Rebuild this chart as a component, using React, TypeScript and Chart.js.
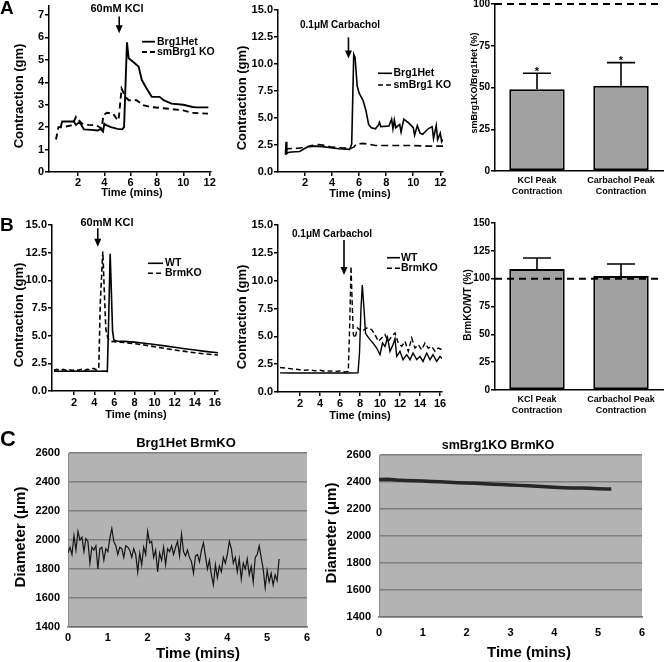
import React, { useEffect, useRef } from "react";
import { Chart, registerables } from "chart.js";

Chart.register(...registerables);

const FONT = "'Liberation Sans', Arial, Helvetica, sans-serif";
Chart.defaults.font.family = FONT;
Chart.defaults.color = "#000";

/* ---------------- Panel A1: 60mM KCl, Brg1Het vs smBrg1 KO ---------------- */
const a1HetTime = [0.67, 0.8, 1.2, 1.67, 1.85, 2.05, 2.2, 2.45, 3.0, 3.5, 3.7, 3.9, 4.0, 4.1, 4.5, 5.0, 5.35, 5.5, 5.72, 5.85, 6.2, 6.6, 6.85, 7.2, 7.6, 8.2, 8.5, 9.1, 10.0, 10.7, 11.0, 11.9];
const a1HetVal = [1.95, 2.25, 2.25, 2.25, 2.1, 2.2, 2.15, 1.9, 1.88, 1.85, 1.92, 1.8, 2.15, 2.1, 2.0, 1.92, 1.9, 2.0, 5.78, 5.07, 4.9, 4.7, 4.1, 3.73, 3.35, 3.35, 3.2, 3.05, 3.0, 2.9, 2.88, 2.88];
const a1KoTime = [0.33, 0.52, 1.0, 1.55, 1.85, 2.3, 2.8, 3.4, 3.8, 3.93, 4.2, 4.67, 4.93, 5.08, 5.31, 5.6, 5.85, 6.45, 6.95, 7.5, 8.7, 10.0, 10.6, 11.87];
const a1KoVal = [1.45, 2.0, 2.02, 2.08, 2.46, 2.16, 2.1, 2.08, 1.94, 2.53, 2.64, 2.6, 2.38, 2.3, 3.72, 3.35, 3.2, 3.2, 2.98, 2.9, 2.83, 2.75, 2.64, 2.6];
const a1XTicks = [2, 4, 6, 8, 10, 12];
const a1YTicks = [0, 1, 2, 3, 4, 5, 6, 7];

/* ---------------- Panel A2: 0.1uM Carbachol ---------------- */
const a2HetTime = [0.55, 0.6, 0.65, 0.75, 1.0, 1.6, 2.0, 2.3, 2.8, 3.3, 3.9, 4.5, 5.3, 5.45, 5.6, 5.7, 5.85, 6.0, 6.3, 6.5, 6.7, 6.9, 7.2, 7.4, 7.5, 7.6, 8.2, 8.4, 8.5, 8.6, 8.7, 9.0, 9.1, 9.3, 9.7, 10.0, 10.1, 10.3, 10.5, 10.7, 11.1, 11.4, 11.5, 11.7, 11.8, 12.0, 12.1, 12.2];
const a2HetVal = [1.6, 2.8, 1.7, 1.8, 1.85, 1.9, 2.2, 2.35, 2.4, 2.35, 2.25, 2.15, 2.1, 2.6, 10.9, 10.6, 8.0, 7.3, 6.6, 5.7, 4.4, 4.1, 4.0, 4.3, 4.6, 4.2, 4.25, 4.9, 4.0, 4.8, 4.1, 4.4, 3.7, 4.9, 4.5, 4.1, 3.4, 4.3, 3.6, 3.5, 4.0, 4.2, 3.1, 4.3, 3.0, 3.6, 2.8, 3.0];
const a2KoTime = [0.55, 0.7, 1.5, 2.0, 2.5, 3.0, 3.5, 4.0, 4.5, 5.4, 5.6, 5.8, 6.3, 6.8, 7.2, 8.0, 9.0, 10.0, 11.0, 12.2];
const a2KoVal = [2.0, 2.15, 2.2, 2.3, 2.45, 2.55, 2.45, 2.3, 2.25, 2.2, 2.3, 2.6, 2.65, 2.55, 2.45, 2.45, 2.45, 2.45, 2.4, 2.4];
const a2XTicks = [2, 4, 6, 8, 10, 12];
const contractionYTicks = [0, 2.5, 5, 7.5, 10, 12.5, 15];

/* ---------------- Bar panels ---------------- */
const barCategories = [["KCl Peak", "Contraction"], ["Carbachol Peak", "Contraction"]];
const a3Mean = [48.9, 51.1];
const a3Sem = [9.6, 13.8];
const a3Stars = ["*", "*"];
const a3YTicks = [0, 25, 50, 75, 100];
const b3Mean = [108.7, 102.4];
const b3Sem = [9.9, 10.8];
const b3YTicks = [0, 25, 50, 75, 100, 125, 150];
const referenceLevel = 100;

/* ---------------- Panel B1: 60mM KCl, WT vs BrmKO ---------------- */
const b1WtTime = [0, 0.5, 1, 1.5, 2, 2.5, 3, 3.5, 4, 4.5, 5, 5.3, 5.42, 5.58, 5.7, 5.82, 5.95, 6.3, 7, 8, 9, 10, 11, 12, 13, 14, 15, 16.3];
const b1WtVal = [1.8, 1.78, 1.8, 1.79, 1.8, 1.78, 1.8, 1.79, 1.8, 1.78, 1.8, 1.78, 6.0, 12.4, 9.0, 5.4, 4.6, 4.5, 4.48, 4.42, 4.32, 4.2, 4.08, 3.95, 3.82, 3.7, 3.58, 3.45];
const b1KoTime = [0, 0.3, 0.6, 0.9, 1.2, 1.5, 1.8, 2.1, 2.4, 2.7, 3.0, 3.3, 3.6, 3.9, 4.2, 4.45, 4.6, 4.85, 5.0, 5.15, 5.35, 5.6, 6, 7, 8, 9, 10, 11, 12, 13, 14, 15, 16.3];
const b1KoVal = [1.9, 1.95, 1.85, 1.95, 1.88, 1.96, 1.86, 1.94, 1.88, 1.95, 1.87, 1.95, 1.9, 2.05, 1.92, 2.05, 8.0, 12.6, 9.0, 5.6, 4.8, 4.5, 4.45, 4.38, 4.28, 4.15, 4.0, 3.85, 3.7, 3.58, 3.45, 3.35, 3.25];
const bXTicks = [2, 4, 6, 8, 10, 12, 14, 16];

/* ---------------- Panel B2: Carbachol, WT vs BrmKO ---------------- */
const b2WtTime = [0, 1, 2, 3, 4, 5, 6, 7, 7.8, 7.95, 8.1, 8.23, 8.4, 8.55, 8.67, 9.0, 9.3, 9.67, 10.0, 10.25, 10.5, 10.75, 11.0, 11.3, 11.5, 11.67, 12.0, 12.3, 12.67, 13.0, 13.3, 13.67, 14.0, 14.3, 14.67, 15.0, 15.3, 15.67, 16.0, 16.2];
const b2WtVal = [1.72, 1.7, 1.72, 1.7, 1.72, 1.7, 1.72, 1.7, 1.72, 3.5, 7.5, 9.6, 7.5, 5.3, 5.1, 4.7, 4.4, 3.95, 3.35, 4.4, 4.1, 4.9, 3.65, 4.25, 4.8, 3.2, 3.65, 2.9, 3.35, 2.9, 3.5, 2.9, 3.2, 2.75, 3.5, 2.9, 3.35, 2.75, 3.2, 3.0];
const b2KoTime = [0, 0.5, 1, 1.5, 2, 2.5, 3, 3.5, 4, 4.5, 5, 5.5, 6, 6.5, 6.83, 6.97, 7.1, 7.22, 7.33, 7.5, 7.75, 8.17, 8.67, 9.17, 9.5, 9.83, 10.17, 10.5, 10.83, 11.17, 11.5, 11.83, 12.17, 12.5, 12.83, 13.17, 13.5, 13.83, 14.17, 14.5, 14.83, 15.17, 15.5, 15.83, 16.2];
const b2KoVal = [2.2, 2.15, 2.1, 2.05, 2.0, 1.95, 2.0, 1.9, 1.95, 1.85, 1.9, 1.85, 1.88, 1.8, 1.85, 6.0, 11.3, 8.0, 5.15, 4.85, 5.75, 5.45, 5.75, 5.6, 5.15, 4.55, 4.85, 5.15, 4.55, 5.0, 5.3, 4.4, 4.1, 4.55, 3.65, 4.85, 3.95, 4.25, 3.8, 4.4, 3.95, 4.1, 3.65, 3.95, 3.8];

/* ---------------- Panel C: vessel diameter ---------------- */
const c1Time = [0.0, 0.05, 0.1, 0.15, 0.2, 0.25, 0.3, 0.35, 0.4, 0.45, 0.5, 0.55, 0.6, 0.65, 0.7, 0.75, 0.8, 0.85, 0.9, 0.95, 1.0, 1.05, 1.1, 1.15, 1.2, 1.25, 1.3, 1.35, 1.4, 1.45, 1.5, 1.55, 1.6, 1.65, 1.7, 1.75, 1.8, 1.85, 1.9, 1.95, 2.0, 2.05, 2.1, 2.15, 2.2, 2.25, 2.3, 2.35, 2.4, 2.45, 2.5, 2.55, 2.6, 2.65, 2.7, 2.75, 2.8, 2.85, 2.9, 2.95, 3.0, 3.05, 3.1, 3.15, 3.2, 3.25, 3.3, 3.35, 3.4, 3.45, 3.5, 3.55, 3.6, 3.65, 3.7, 3.75, 3.8, 3.85, 3.9, 3.95, 4.0, 4.05, 4.1, 4.15, 4.2, 4.25, 4.3, 4.35, 4.4, 4.45, 4.5, 4.55, 4.6, 4.65, 4.7, 4.75, 4.8, 4.85, 4.9, 4.95, 5.0, 5.05, 5.1, 5.15, 5.2, 5.25, 5.3];
const c1Diameter = [1910, 1950, 1900, 2030, 1930, 2060, 2000, 2020, 1920, 2010, 1990, 1840, 1950, 1930, 1960, 1800, 1940, 1950, 1860, 1940, 1920, 2010, 2080, 1990, 1960, 1900, 1950, 1940, 1880, 1960, 1950, 1930, 1880, 1940, 1900, 1780, 1910, 1830, 1950, 1900, 2060, 1980, 1990, 1880, 1930, 1780, 1910, 1860, 1950, 1830, 1940, 1920, 1960, 1900, 1950, 1990, 1890, 2040, 1920, 1890, 1930, 1880, 1850, 1770, 1890, 1900, 1850, 1930, 1980, 1890, 1800, 1860, 1760, 1690, 1830, 1740, 1820, 1780, 1880, 1840, 1900, 1990, 1940, 1840, 1880, 1780, 1870, 1730, 1840, 1800, 1870, 1760, 1820, 1710, 1880, 1900, 1960, 1880, 1800, 1670, 1790, 1710, 1770, 1690, 1760, 1720, 1870];
const c2Time = [0, 0.2, 0.4, 0.6, 0.8, 1.0, 1.2, 1.4, 1.6, 1.8, 2.0, 2.2, 2.4, 2.6, 2.8, 3.0, 3.2, 3.4, 3.6, 3.8, 4.0, 4.2, 4.4, 4.6, 4.8, 5.0, 5.2, 5.3];
const c2Diameter = [2418, 2420, 2414, 2412, 2410, 2408, 2404, 2401, 2398, 2395, 2392, 2390, 2387, 2384, 2381, 2378, 2375, 2372, 2368, 2364, 2361, 2358, 2356, 2355, 2353, 2350, 2348, 2349];
const cXTicks = [0, 1, 2, 3, 4, 5, 6];
const cYTicks = [1400, 1600, 1800, 2000, 2200, 2400, 2600];

/* ---------------- helpers ---------------- */
type Box = { left: number; top: number; width: number; height: number };
type Pad = { left: number; top: number; right: number; bottom: number };
type Txt = { t: string; x: number; y: number; size: number; rot?: boolean };
type LegItem = { label: string; dash: number[]; y: number };
type Legend = { x1: number; x2: number; tx: number; size: number; lw: number; items: LegItem[] };
type Arrow = { x: number; y1: number; y2: number };
type Ov = {
  box: Box;
  bg?: string;
  texts?: Txt[];
  legend?: Legend;
  arrow?: Arrow;
  err?: number[];
  stars?: string[];
  ref?: number;
  cap?: number;
};

const pts = (t: number[], v: number[]) => t.map((x, i) => ({ x, y: v[i] }));
const setTicks = (arr: number[]) => (s: any) => {
  s.ticks = arr.map((value) => ({ value }));
};
const zeroPad = (s: any) => {
  s.paddingTop = 0;
  s.paddingBottom = 0;
  s.paddingLeft = 0;
  s.paddingRight = 0;
};
const fitW = (w: number) => (s: any) => {
  s.width = w;
  zeroPad(s);
};
const fitH = (h: number) => (s: any) => {
  s.height = h;
  zeroPad(s);
};

function overlay(o: Ov) {
  return {
    id: "overlay",
    beforeDraw(chart: any) {
      if (!o.bg) return;
      const { ctx, chartArea: a } = chart;
      ctx.save();
      ctx.fillStyle = o.bg;
      ctx.fillRect(a.left, a.top, a.right - a.left, a.bottom - a.top);
      ctx.restore();
    },
    afterDatasetsDraw(chart: any) {
      const { ctx } = chart;
      const ys = chart.scales.y;
      ctx.save();
      ctx.strokeStyle = "#000";
      ctx.fillStyle = "#000";
      if (o.err) {
        const meta = chart.getDatasetMeta(0);
        const vals = chart.data.datasets[0].data as number[];
        const cap = o.cap ?? 28;
        meta.data.forEach((bar: any, i: number) => {
          const base = ys.getPixelForValue(vals[i]);
          const top = ys.getPixelForValue(vals[i] + o.err![i]);
          ctx.lineWidth = 1.6;
          ctx.setLineDash([]);
          ctx.beginPath();
          ctx.moveTo(bar.x, base);
          ctx.lineTo(bar.x, top);
          ctx.moveTo(bar.x - cap / 2, top);
          ctx.lineTo(bar.x + cap / 2, top);
          ctx.stroke();
          if (o.stars) {
            ctx.font = `bold 11px ${FONT}`;
            ctx.textAlign = "center";
            ctx.textBaseline = "alphabetic";
            ctx.fillText(o.stars[i], bar.x, top + 1.5);
          }
        });
      }
      if (o.ref != null) {
        const y = ys.getPixelForValue(o.ref);
        const a = chart.chartArea;
        ctx.lineWidth = 2;
        ctx.setLineDash([7, 5]);
        ctx.beginPath();
        ctx.moveTo(a.left, y);
        ctx.lineTo(a.right, y);
        ctx.stroke();
      }
      ctx.restore();
    },
    afterDraw(chart: any) {
      const { ctx } = chart;
      ctx.save();
      ctx.fillStyle = "#000";
      ctx.strokeStyle = "#000";
      if (o.arrow) {
        const xs = chart.scales.x;
        const ys = chart.scales.y;
        const ax = xs.getPixelForValue(o.arrow.x);
        const ay1 = ys.getPixelForValue(o.arrow.y1);
        const ay2 = ys.getPixelForValue(o.arrow.y2);
        ctx.lineWidth = 1.6;
        ctx.setLineDash([]);
        ctx.beginPath();
        ctx.moveTo(ax, ay1);
        ctx.lineTo(ax, ay2 - 6);
        ctx.stroke();
        ctx.beginPath();
        ctx.moveTo(ax - 3.5, ay2 - 8);
        ctx.lineTo(ax + 3.5, ay2 - 8);
        ctx.lineTo(ax, ay2);
        ctx.closePath();
        ctx.fill();
      }
      ctx.translate(-o.box.left, -o.box.top);
      if (o.legend) {
        const L = o.legend;
        L.items.forEach((it) => {
          ctx.lineWidth = L.lw;
          ctx.setLineDash(it.dash);
          ctx.beginPath();
          ctx.moveTo(L.x1, it.y);
          ctx.lineTo(L.x2, it.y);
          ctx.stroke();
          ctx.setLineDash([]);
          ctx.font = `bold ${L.size}px ${FONT}`;
          ctx.textAlign = "left";
          ctx.textBaseline = "middle";
          ctx.fillText(it.label, L.tx, it.y);
        });
      }
      (o.texts || []).forEach((tx) => {
        ctx.save();
        ctx.font = `bold ${tx.size}px ${FONT}`;
        ctx.textAlign = "center";
        ctx.textBaseline = "middle";
        ctx.translate(tx.x, tx.y);
        if (tx.rot) ctx.rotate(-Math.PI / 2);
        ctx.fillText(tx.t, 0, 0);
        ctx.restore();
      });
      ctx.restore();
    },
  };
}

const prismGrid = { display: true, drawOnChartArea: false, drawTicks: true, tickLength: 4, color: "#000", lineWidth: 1.5 };
const prismBorder = { display: true, color: "#000", width: 1.5 };
const noGrid = { display: false, drawTicks: false, tickLength: 0 };

type Series = { label: string; t: number[]; v: number[]; dash: number[]; w: number; color?: string };

function prismLine(p: {
  box: Box; pad: Pad; yW: number; xH: number;
  xMin: number; xMax: number; xTicks: number[];
  yMax: number; yTicks: number[]; yDec: number;
  xTickPad: number; series: Series[]; ov: Ov;
}) {
  return {
    type: "line",
    data: {
      datasets: p.series.map((s) => ({
        label: s.label,
        data: pts(s.t, s.v),
        borderColor: s.color ?? "#000",
        borderWidth: s.w,
        borderDash: s.dash,
        pointRadius: 0,
        tension: 0,
        fill: false,
      })),
    },
    options: {
      animation: false,
      responsive: false,
      devicePixelRatio: 1,
      events: [],
      layout: { padding: p.pad },
      plugins: { legend: { display: false }, tooltip: { enabled: false } },
      scales: {
        x: {
          type: "linear",
          min: p.xMin,
          max: p.xMax,
          afterBuildTicks: setTicks(p.xTicks),
          afterFit: fitH(p.xH),
          grid: prismGrid,
          border: prismBorder,
          ticks: { font: { size: 11, weight: "bold" }, padding: p.xTickPad, autoSkip: false, maxRotation: 0, callback: (v: any) => String(v) },
        },
        y: {
          type: "linear",
          min: 0,
          max: p.yMax,
          afterBuildTicks: setTicks(p.yTicks),
          afterFit: fitW(p.yW),
          grid: prismGrid,
          border: prismBorder,
          ticks: { font: { size: 11, weight: "bold" }, padding: 1, autoSkip: false, callback: (v: any) => Number(v).toFixed(p.yDec) },
        },
      },
    },
    plugins: [overlay(p.ov)],
  };
}

function prismBar(p: { box: Box; pad: Pad; yW: number; xH: number; vals: number[]; yMax: number; yTicks: number[]; ov: Ov }) {
  return {
    type: "bar",
    data: {
      labels: barCategories,
      datasets: [
        {
          data: p.vals,
          backgroundColor: "#a1a1a1",
          borderColor: "#000",
          borderWidth: 2,
          borderSkipped: false,
          barPercentage: 0.66,
          categoryPercentage: 1,
        },
      ],
    },
    options: {
      animation: false,
      responsive: false,
      devicePixelRatio: 1,
      events: [],
      layout: { padding: p.pad },
      plugins: { legend: { display: false }, tooltip: { enabled: false } },
      scales: {
        x: {
          afterFit: fitH(p.xH),
          grid: noGrid,
          border: prismBorder,
          ticks: { font: { size: 9, weight: "bold", lineHeight: 1.2 }, padding: 4, autoSkip: false, maxRotation: 0 },
        },
        y: {
          type: "linear",
          min: 0,
          max: p.yMax,
          afterBuildTicks: setTicks(p.yTicks),
          afterFit: fitW(p.yW),
          grid: prismGrid,
          border: prismBorder,
          ticks: { font: { size: 10, weight: "bold" }, padding: 1, autoSkip: false, callback: (v: any) => String(v) },
        },
      },
    },
    plugins: [overlay(p.ov)],
  };
}

function excelLine(p: { box: Box; pad: Pad; yW: number; xH: number; xTickPad: number; t: number[]; v: number[]; w: number; color: string; ov: Ov }) {
  return {
    type: "line",
    data: {
      datasets: [
        { data: pts(p.t, p.v), borderColor: p.color, borderWidth: p.w, pointRadius: 0, tension: 0, fill: false },
      ],
    },
    options: {
      animation: false,
      responsive: false,
      devicePixelRatio: 1,
      events: [],
      layout: { padding: p.pad },
      plugins: { legend: { display: false }, tooltip: { enabled: false } },
      scales: {
        x: {
          type: "linear",
          min: 0,
          max: 6,
          afterBuildTicks: setTicks(cXTicks),
          afterFit: fitH(p.xH),
          grid: noGrid,
          border: { display: true, color: "#6f6f6f", width: 1.5 },
          ticks: { font: { size: 11, weight: "bold" }, padding: p.xTickPad, autoSkip: false, maxRotation: 0, callback: (v: any) => String(v) },
        },
        y: {
          type: "linear",
          min: 1400,
          max: 2600,
          afterBuildTicks: setTicks(cYTicks),
          afterFit: fitW(p.yW),
          grid: { display: true, drawOnChartArea: true, drawTicks: false, tickLength: 0, color: "#7f7f7f", lineWidth: 1.5 },
          border: { display: true, color: "#8c8c8c", width: 1 },
          ticks: { font: { size: 11, weight: "bold" }, padding: 8, autoSkip: false, callback: (v: any) => String(v) },
        },
      },
    },
    plugins: [overlay(p.ov)],
  };
}

/* ---------------- panel layout ---------------- */
const boxA1: Box = { left: 0, top: -6, width: 225, height: 211 };
const boxA2: Box = { left: 225, top: -6, width: 230, height: 211 };
const boxA3: Box = { left: 455, top: -6, width: 209, height: 211 };
const boxB1: Box = { left: 0, top: 213, width: 225, height: 212 };
const boxB2: Box = { left: 225, top: 213, width: 230, height: 212 };
const boxB3: Box = { left: 455, top: 213, width: 209, height: 212 };
const boxC1: Box = { left: 0, top: 428, width: 320, height: 234 };
const boxC2: Box = { left: 320, top: 428, width: 344, height: 234 };

const panels: { box: Box; make: () => any }[] = [
  {
    box: boxA1,
    make: () =>
      prismLine({
        box: boxA1, pad: { left: 0, top: 12, right: 14, bottom: 0 }, yW: 49, xH: 33,
        xMin: -0.2, xMax: 12.1, xTicks: a1XTicks, yMax: 7.4, yTicks: a1YTicks, yDec: 0, xTickPad: 0,
        series: [
          { label: "Brg1Het", t: a1HetTime, v: a1HetVal, dash: [], w: 1.9 },
          { label: "smBrg1 KO", t: a1KoTime, v: a1KoVal, dash: [6, 4], w: 1.9 },
        ],
        ov: {
          box: boxA1,
          arrow: { x: 5.13, y1: 6.93, y2: 6.19 },
          legend: { x1: 142, x2: 155, tx: 157, size: 10.5, lw: 1.8, items: [
            { label: "Brg1Het", dash: [], y: 41.7 },
            { label: "smBrg1 KO", dash: [5, 3], y: 52 },
          ] },
          texts: [
            { t: "Contraction (gm)", x: 19, y: 96, size: 13, rot: true },
            { t: "Time (mins)", x: 132, y: 193, size: 11 },
            { t: "60mM KCl", x: 117, y: 9, size: 11 },
          ],
        },
      }),
  },
  {
    box: boxA2,
    make: () =>
      prismLine({
        box: boxA2, pad: { left: 0, top: 16, right: 12, bottom: 0 }, yW: 53, xH: 33,
        xMin: 0, xMax: 12.2, xTicks: a2XTicks, yMax: 15, yTicks: contractionYTicks, yDec: 1, xTickPad: 0,
        series: [
          { label: "Brg1Het", t: a2HetTime, v: a2HetVal, dash: [], w: 1.6 },
          { label: "smBrg1 KO", t: a2KoTime, v: a2KoVal, dash: [7, 4], w: 1.6 },
        ],
        ov: {
          box: boxA2,
          arrow: { x: 5.21, y1: 12.47, y2: 10.5 },
          legend: { x1: 378, x2: 392, tx: 393.5, size: 10.5, lw: 1.6, items: [
            { label: "Brg1Het", dash: [], y: 73.3 },
            { label: "smBrg1 KO", dash: [5, 3], y: 85 },
          ] },
          texts: [
            { t: "Contraction (gm)", x: 242, y: 98, size: 13, rot: true },
            { t: "Time (mins)", x: 360, y: 194, size: 11 },
            { t: "0.1μM Carbachol", x: 340, y: 25, size: 10 },
          ],
        },
      }),
  },
  {
    box: boxA3,
    make: () =>
      prismBar({
        box: boxA3, pad: { left: 0, top: 10, right: 1, bottom: 0 }, yW: 40, xH: 34,
        vals: a3Mean, yMax: 100, yTicks: a3YTicks,
        ov: {
          box: boxA3, err: a3Sem, stars: a3Stars, ref: referenceLevel, cap: 28,
          texts: [{ t: "smBrg1KO/Brg1Het (%)", x: 475, y: 83, size: 9, rot: true }],
        },
      }),
  },
  {
    box: boxB1,
    make: () =>
      prismLine({
        box: boxB1, pad: { left: 0, top: 12, right: 7, bottom: 0 }, yW: 52, xH: 34,
        xMin: -0.2, xMax: 16.3, xTicks: bXTicks, yMax: 15, yTicks: contractionYTicks, yDec: 1, xTickPad: 1,
        series: [
          { label: "WT", t: b1WtTime, v: b1WtVal, dash: [], w: 1.6 },
          { label: "BrmKO", t: b1KoTime, v: b1KoVal, dash: [5, 3], w: 1.6 },
        ],
        ov: {
          box: boxB1,
          arrow: { x: 4.35, y1: 14.7, y2: 13.04 },
          legend: { x1: 148, x2: 163, tx: 165, size: 10.5, lw: 1.6, items: [
            { label: "WT", dash: [], y: 263.3 },
            { label: "BrmKO", dash: [5, 3], y: 273.3 },
          ] },
          texts: [
            { t: "Contraction (gm)", x: 19, y: 315, size: 13, rot: true },
            { t: "Time (mins)", x: 136, y: 415, size: 11 },
            { t: "60mM KCl", x: 107, y: 223, size: 11 },
          ],
        },
      }),
  },
  {
    box: boxB2,
    make: () =>
      prismLine({
        box: boxB2, pad: { left: 0, top: 12, right: 13, bottom: 0 }, yW: 53, xH: 33,
        xMin: -0.2, xMax: 16.2, xTicks: bXTicks, yMax: 15, yTicks: contractionYTicks, yDec: 1, xTickPad: 1,
        series: [
          { label: "WT", t: b2WtTime, v: b2WtVal, dash: [], w: 1.4 },
          { label: "BrmKO", t: b2KoTime, v: b2KoVal, dash: [5, 3], w: 1.4 },
        ],
        ov: {
          box: boxB2,
          arrow: { x: 6.4, y1: 13.66, y2: 10.5 },
          legend: { x1: 387, x2: 400, tx: 401, size: 10.5, lw: 1.6, items: [
            { label: "WT", dash: [], y: 257.7 },
            { label: "BrmKO", dash: [5, 3], y: 268.3 },
          ] },
          texts: [
            { t: "Contraction (gm)", x: 242, y: 317, size: 13, rot: true },
            { t: "Time (mins)", x: 360, y: 416, size: 11 },
            { t: "0.1μM Carbachol", x: 332, y: 234, size: 10 },
          ],
        },
      }),
  },
  {
    box: boxB3,
    make: () =>
      prismBar({
        box: boxB3, pad: { left: 0, top: 10, right: 1, bottom: 0 }, yW: 40, xH: 35,
        vals: b3Mean, yMax: 150, yTicks: b3YTicks,
        ov: {
          box: boxB3, err: b3Sem, ref: referenceLevel, cap: 28,
          texts: [{ t: "BrmKO/WT (%)", x: 468, y: 305, size: 10, rot: true }],
        },
      }),
  },
  {
    box: boxC1,
    make: () =>
      excelLine({
        box: boxC1, pad: { left: 0, top: 25, right: 13, bottom: 0 }, yW: 68, xH: 35, xTickPad: 4,
        t: c1Time, v: c1Diameter, w: 1.2, color: "#151515",
        ov: {
          box: boxC1, bg: "#b3b3b3",
          texts: [
            { t: "Brg1Het BrmKO", x: 186, y: 443, size: 13 },
            { t: "Diameter (μm)", x: 21, y: 537, size: 15, rot: true },
            { t: "Time (mins)", x: 198, y: 654, size: 15 },
          ],
        },
      }),
  },
  {
    box: boxC2,
    make: () =>
      excelLine({
        box: boxC2, pad: { left: 0, top: 27, right: 22, bottom: 0 }, yW: 59, xH: 45, xTickPad: 9,
        t: c2Time, v: c2Diameter, w: 3.5, color: "#262626",
        ov: {
          box: boxC2, bg: "#b3b3b3",
          texts: [
            { t: "smBrg1KO BrmKO", x: 498, y: 446, size: 12.5 },
            { t: "Diameter (μm)", x: 332, y: 533, size: 15, rot: true },
            { t: "Time (mins)", x: 529, y: 653, size: 15 },
          ],
        },
      }),
  },
];

function Panel({ box, make }: { box: Box; make: () => any }) {
  const ref = useRef<HTMLCanvasElement>(null);
  useEffect(() => {
    const chart = new Chart(ref.current as HTMLCanvasElement, make());
    return () => chart.destroy();
  }, []);
  return (
    <canvas
      ref={ref}
      width={box.width}
      height={box.height}
      style={{ position: "absolute", left: box.left, top: box.top, width: box.width, height: box.height }}
    />
  );
}

const letterStyle = (left: number, top: number, size: number): React.CSSProperties => ({
  position: "absolute",
  left,
  top,
  font: `bold ${size}px ${FONT}`,
  lineHeight: `${size}px`,
  color: "#000",
});

export default function App() {
  return (
    <div style={{ position: "absolute", left: 0, top: 0, width: 664, height: 662, background: "#fff", overflow: "hidden" }}>
      {panels.map((p, i) => (
        <Panel key={i} box={p.box} make={p.make} />
      ))}
      <div style={letterStyle(0, -2, 19)}>A</div>
      <div style={letterStyle(0, 215, 19)}>B</div>
      <div style={letterStyle(0, 428, 22)}>C</div>
    </div>
  );
}
